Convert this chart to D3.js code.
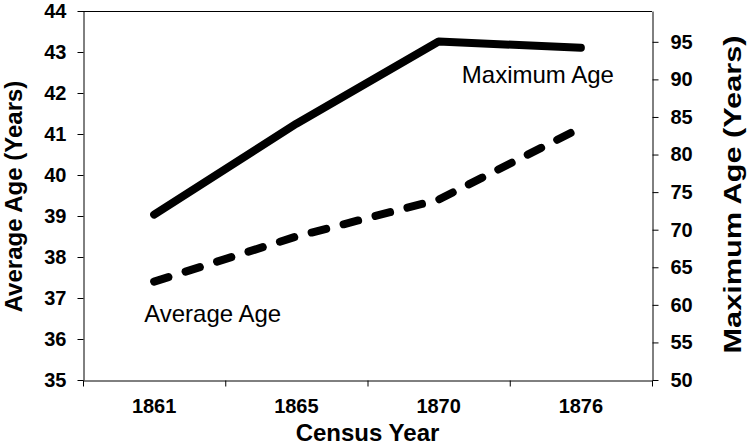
<!DOCTYPE html>
<html>
<head>
<meta charset="utf-8">
<script src="https://cdn.jsdelivr.net/npm/d3@7"></script>
<style>
    body { margin: 0; background: #fff; }
    text { font-family: "Liberation Sans", Arial, sans-serif; }
</style>
</head>
<body>
<div id="chart"></div>
<script>
var years = ["1861", "1865", "1870", "1876"];
var averageAge = [37.4, 38.5, 39.4, 41.15];
var maximumAge = [72, 84.1, 95.05, 94.2];
var leftTicks = [35, 36, 37, 38, 39, 40, 41, 42, 43, 44];
var rightTicks = [50, 55, 60, 65, 70, 75, 80, 85, 90, 95];

(function() {
    var width = 750,
        height = 447,
        margin = { top: 11, right: 98, bottom: 67, left: 83 };

    var svg = d3.select("#chart")
        .append("svg")
        .attr("width", width)
        .attr("height", height);

    var x = d3.scaleBand()
        .domain(years)
        .range([margin.left, width - margin.right]);

    // linear copy of the band scale, used for ticks between categories
    var xEdge = d3.scaleLinear()
        .domain([0, years.length])
        .range(x.range());

    var yLeft = d3.scaleLinear()
        .domain([35, 44])
        .range([height - margin.bottom, margin.top]);

    var yRight = d3.scaleLinear()
        .domain([50, 99.1])
        .range([height - margin.bottom, margin.top]);

    function cx(d) { return x(d) + x.bandwidth() / 2; }

    var midY = margin.top + (height - margin.bottom - margin.top) / 2;

    // top border of the plot area
    svg.append("line")
        .attr("x1", margin.left)
        .attr("x2", width - margin.right)
        .attr("y1", margin.top + 0.5)
        .attr("y2", margin.top + 0.5)
        .attr("stroke", "#000");

    svg.append("g")
        .attr("transform", "translate(" + (margin.left + 0.5) + ",0)")
        .call(d3.axisLeft(yLeft)
            .tickValues(leftTicks)
            .tickSize(6)
            .tickSizeOuter(0)
            .tickPadding(11));

    svg.append("g")
        .attr("transform", "translate(" + (width - margin.right + 0.5) + ",0)")
        .call(d3.axisRight(yRight)
            .tickValues(rightTicks)
            .tickSize(6)
            .tickSizeOuter(0)
            .tickPadding(12));

    svg.append("g")
        .attr("transform", "translate(0," + (height - margin.bottom + 0.5) + ")")
        .call(d3.axisBottom(xEdge)
            .tickValues(d3.range(years.length + 1))
            .tickFormat("")
            .tickSize(6)
            .tickSizeOuter(0));

    var bottomAxis = svg.append("g")
        .attr("transform", "translate(0," + (height - margin.bottom + 0.5) + ")")
        .call(d3.axisBottom(x)
            .tickSize(0)
            .tickPadding(18));
    bottomAxis.select(".domain").remove();

    svg.selectAll(".tick text")
        .attr("font-family", "Liberation Sans, Arial, sans-serif")
        .attr("font-weight", "bold")
        .attr("font-size", 20)
        .attr("fill", "#000");

    svg.selectAll(".domain, .tick line")
        .attr("stroke", "#000");

    var lineMax = d3.line()
        .x(function(d, i) { return cx(years[i]); })
        .y(function(d) { return yRight(d); });

    var lineAvg = d3.line()
        .x(function(d, i) { return cx(years[i]); })
        .y(function(d) { return yLeft(d); });

    svg.append("path")
        .datum(maximumAge)
        .attr("d", lineMax)
        .attr("fill", "none")
        .attr("stroke", "#000")
        .attr("stroke-width", 8)
        .attr("stroke-linecap", "round")
        .attr("stroke-linejoin", "round");

    svg.append("path")
        .datum(averageAge)
        .attr("d", lineAvg)
        .attr("fill", "none")
        .attr("stroke", "#000")
        .attr("stroke-width", 8)
        .attr("stroke-dasharray", "15,18")
        .attr("stroke-linecap", "round")
        .attr("stroke-linejoin", "round");

    // series labels
    svg.append("text")
        .attr("x", cx(years[3]) + 33)
        .attr("y", yRight(maximumAge[3]) + 35)
        .attr("text-anchor", "end")
        .attr("font-size", 24)
        .attr("fill", "#000")
        .text("Maximum Age");

    svg.append("text")
        .attr("x", cx(years[0]) - 10)
        .attr("y", yLeft(averageAge[0]) + 40)
        .attr("text-anchor", "start")
        .attr("font-size", 24)
        .attr("fill", "#000")
        .text("Average Age");

    // axis titles
    svg.append("text")
        .attr("x", (margin.left + width - margin.right) / 2)
        .attr("y", height - 6)
        .attr("text-anchor", "middle")
        .attr("font-size", 24)
        .attr("font-weight", "bold")
        .attr("fill", "#000")
        .text("Census Year");

    svg.append("text")
        .attr("transform", "translate(22," + (midY + 1) + ") rotate(-90)")
        .attr("text-anchor", "middle")
        .attr("font-size", 24)
        .attr("font-weight", "bold")
        .attr("fill", "#000")
        .text("Average Age (Years)");

    svg.append("text")
        .attr("transform", "translate(741," + (midY - 1) + ") rotate(-90)")
        .attr("text-anchor", "middle")
        .attr("font-size", 24)
        .attr("font-weight", "bold")
        .attr("fill", "#000")
        .attr("textLength", 318)
        .attr("lengthAdjust", "spacingAndGlyphs")
        .text("Maximum Age (Years)");
})();
</script>
</body>
</html>
